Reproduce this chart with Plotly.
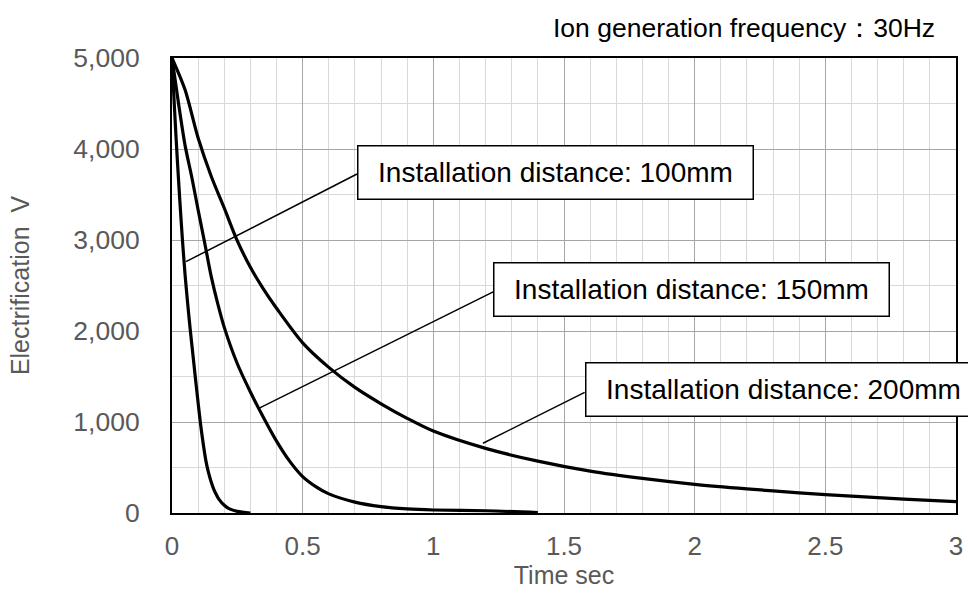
import plotly.graph_objects as go

# Discharge curves: time (s) vs. electrification (V) for three installation distances
t_100 = [0, 0.01, 0.02, 0.03, 0.04, 0.05, 0.06, 0.07, 0.08, 0.09, 0.1, 0.11, 0.12, 0.13,
         0.14, 0.15, 0.16, 0.17, 0.18, 0.2, 0.22, 0.25, 0.3]
v_100 = [5000, 4420, 3900, 3430, 3000, 2620, 2300, 2010, 1740, 1470, 1210, 960, 750, 570,
         440, 340, 260, 200, 150, 85, 45, 18, 0]

t_150 = [0, 0.025, 0.05, 0.075, 0.1, 0.125, 0.15, 0.175, 0.2, 0.25, 0.3, 0.35, 0.4, 0.45,
         0.5, 0.55, 0.6, 0.7, 0.8, 0.9, 1.0, 1.2, 1.4]
v_150 = [5000, 4500, 4040, 3700, 3330, 2970, 2600, 2300, 2040, 1640, 1330, 1050, 790, 570,
         400, 290, 210, 120, 70, 45, 33, 25, 5]

t_200 = [0, 0.05, 0.1, 0.15, 0.2, 0.25, 0.3, 0.35, 0.4, 0.5, 0.6, 0.7, 0.8, 0.9, 1.0,
         1.2, 1.4, 1.6, 1.8, 2.0, 2.2, 2.4, 2.6, 2.8, 3.0]
v_200 = [5000, 4650, 4120, 3700, 3350, 2990, 2700, 2460, 2250, 1870, 1600, 1380, 1200, 1040, 900,
         710, 570, 460, 380, 315, 265, 222, 185, 153, 125]

series = [
    ("Installation distance: 100mm", t_100, v_100),
    ("Installation distance: 150mm", t_150, v_150),
    ("Installation distance: 200mm", t_200, v_200),
]

# Callouts: label box anchor (left edge, middle) and the leader line from curve to box
callouts = [
    dict(text="Installation distance: 100mm", box=(0.708, 3747), tip=(0.0535, 2762), edge=(0.708, 3725)),
    dict(text="Installation distance: 150mm", box=(1.229, 2456), tip=(0.332, 1150), edge=(1.229, 2430)),
    dict(text="Installation distance: 200mm", box=(1.579, 1355), tip=(1.19, 766), edge=(1.579, 1326)),
]

FONT = "Liberation Sans, Arial, sans-serif"
GRAY = "#595959"

fig = go.Figure()
for name, t, v in series:
    fig.add_trace(go.Scatter(
        x=t, y=v, mode="lines", name=name,
        line=dict(color="black", width=3.2, shape="spline", smoothing=0.8),
        cliponaxis=False, showlegend=False, hoverinfo="skip",
    ))

shapes = []
annotations = []
for c in callouts:
    shapes.append(dict(type="line", xref="x", yref="y",
                       x0=c["tip"][0], y0=c["tip"][1], x1=c["edge"][0], y1=c["edge"][1],
                       line=dict(color="black", width=1.5)))
    annotations.append(dict(
        x=c["box"][0], y=c["box"][1], xref="x", yref="y",
        xanchor="left", yanchor="middle", showarrow=False,
        text=c["text"], font=dict(family=FONT, size=28, color="black"),
        bgcolor="white", bordercolor="black", borderwidth=1.5, borderpad=1,
        width=392, height=50, align="center",
    ))

annotations.append(dict(
    x=0.9758, y=1.066, xref="paper", yref="paper", xanchor="right", yanchor="middle",
    showarrow=False, text="Ion generation frequency：30Hz",
    font=dict(family=FONT, size=26.5, color="black"),
))

fig.update_layout(
    width=968, height=593,
    margin=dict(l=172, r=12, t=58, b=80),
    paper_bgcolor="white", plot_bgcolor="white",
    shapes=shapes, annotations=annotations,
    font=dict(family=FONT, color=GRAY),
)

fig.update_xaxes(
    range=[0, 3], dtick=0.5, tick0=0, automargin=False,
    showgrid=True, gridcolor="#a6a6a6", gridwidth=1.3,
    minor=dict(dtick=0.1, showgrid=True, gridcolor="#d9d9d9", gridwidth=1.3),
    showline=True, linecolor="black", linewidth=2, mirror=True,
    zeroline=False, ticks="", ticklabelstandoff=9,
    tickfont=dict(family=FONT, size=26, color=GRAY),
    title=dict(text="Time sec", font=dict(family=FONT, size=25, color=GRAY), standoff=1),
)
fig.update_yaxes(
    range=[0, 5000], dtick=1000, tick0=0, tickformat=",d", automargin=False,
    showgrid=True, gridcolor="#a6a6a6", gridwidth=1.3,
    minor=dict(dtick=500, showgrid=True, gridcolor="#d9d9d9", gridwidth=1.3),
    showline=True, linecolor="black", linewidth=2, mirror=True,
    zeroline=False, ticks="", ticklabelstandoff=25,
    tickfont=dict(family=FONT, size=26.5, color=GRAY),
    title=dict(text="Electrification  V", font=dict(family=FONT, size=25, color=GRAY), standoff=37),
)

fig.write_html("out.html")
